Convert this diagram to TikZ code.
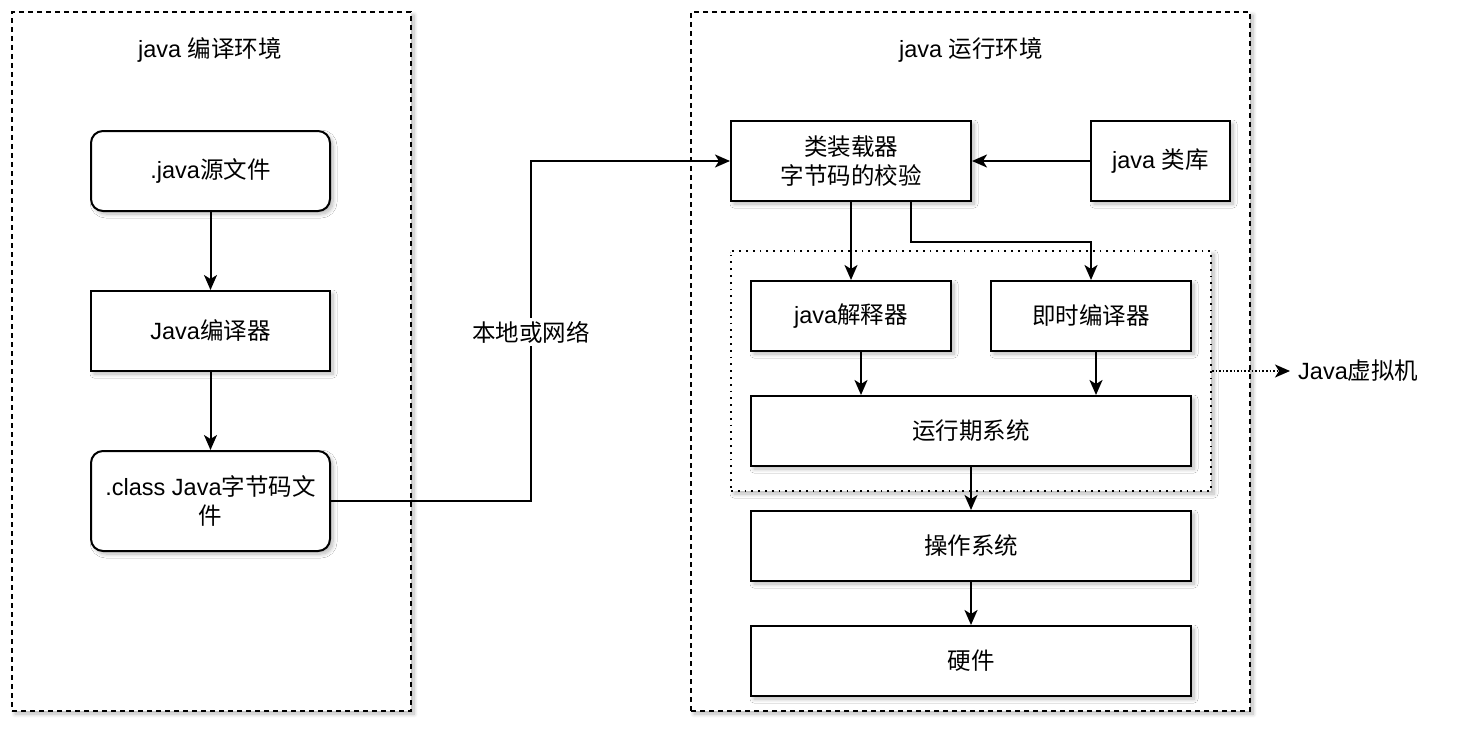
\documentclass[tikz,border=0pt]{standalone}
\usepackage{fontspec}
\setmainfont{Liberation Sans}
\newfontfamily\cjk{Noto Sans CJK SC}
\usetikzlibrary{arrows.meta,shadows.blur}
\begin{document}
\begin{tikzpicture}[x=1pt,y=-1pt,
  every node/.style={font=\fontsize{23.5}{29}\selectfont},
  shd/.style={blur shadow={shadow xshift=3pt,shadow yshift=-3pt,shadow blur radius=4pt,shadow blur steps=8,shadow opacity=28}},
  envbox/.style={draw,fill=white,line width=1.8pt,dash pattern=on 5pt off 4pt,shd,inner sep=0pt},
  jvmbox/.style={draw,fill=white,line width=1.8pt,dash pattern=on 1.8pt off 5pt,shd,inner sep=0pt},
  blk/.style={draw,fill=white,line width=2pt,shd,inner sep=0pt,align=center},
  rblk/.style={blk,rounded corners=12pt},
  arr/.style={line width=2pt,-{Stealth[length=15pt,width=13pt,inset=4pt]}},
  darr/.style={line width=1.8pt,dash pattern=on 1.6pt off 2pt,-{Stealth[length=15pt,width=13pt,inset=4pt]}},
  ttl/.style={inner sep=2pt}
]
\useasboundingbox (0,0) rectangle (1464,744);
% environments
\node[envbox,minimum width=399pt,minimum height=699pt] (compenv) at (211.5,361.5) {};
\node[envbox,minimum width=559pt,minimum height=699pt] (runenv) at (970.5,361.5) {};
\node[ttl] (compttl) at (210,50) {java {\cjk 编译环境}};
\node[ttl] (runttl) at (971,50) {java {\cjk 运行环境}};
% left column
\node[rblk,minimum width=239pt,minimum height=80pt] (src) at (210.5,171) {.java{\cjk 源文件}};
\node[blk,minimum width=239pt,minimum height=80pt] (comp) at (210.5,331) {Java{\cjk 编译器}};
\node[rblk,minimum width=239pt,minimum height=100pt] (cls) at (210.5,501) {.class Java{\cjk 字节码文}\\{\cjk 件}};
% right column
\node[jvmbox,minimum width=480pt,minimum height=240pt] (jvm) at (971,371) {};
\node[blk,minimum width=240pt,minimum height=80pt] (loader) at (851,161) {{\cjk 类装载器}\\{\cjk 字节码的校验}};
\node[blk,minimum width=139pt,minimum height=80pt] (lib) at (1160.5,161) {java {\cjk 类库}};
\node[blk,minimum width=200pt,minimum height=70pt] (interp) at (851,316) {java{\cjk 解释器}};
\node[blk,minimum width=200pt,minimum height=70pt] (jit) at (1091,316) {{\cjk 即时编译器}};
\node[blk,minimum width=440pt,minimum height=70pt] (rt) at (971,431) {{\cjk 运行期系统}};
\node[blk,minimum width=440pt,minimum height=70pt] (os) at (971,546) {{\cjk 操作系统}};
\node[blk,minimum width=440pt,minimum height=70pt] (hw) at (971,661) {{\cjk 硬件}};
% connectors
\draw[arr] (src) -- (comp);
\draw[arr] (comp) -- (cls);
\coordinate (bend) at (531,332);
\draw[arr] (cls.east) -- (cls.east -| bend) -- (bend |- loader.west) -- (loader.west);
\node[fill=white,inner sep=3pt] (net) at (bend) {{\cjk 本地或网络}};
\draw[arr] (lib) -- (loader);
\draw[arr] (loader.south) -- (interp.north);
\draw[arr] ([xshift=60pt]loader.south) -- ++(0,40) -| (jit.north);
\draw[arr] ([xshift=10pt]interp.south) -- ([xshift=10pt]interp.south |- rt.north);
\draw[arr] ([xshift=5pt]jit.south) -- ([xshift=5pt]jit.south |- rt.north);
\draw[arr] (rt) -- (os);
\draw[arr] (os) -- (hw);
\node[anchor=west,inner sep=8pt] (jvmlbl) at (1290,371) {Java{\cjk 虚拟机}};
\draw[darr] (jvm.east) -- (jvmlbl.west);
\end{tikzpicture}
\end{document}
